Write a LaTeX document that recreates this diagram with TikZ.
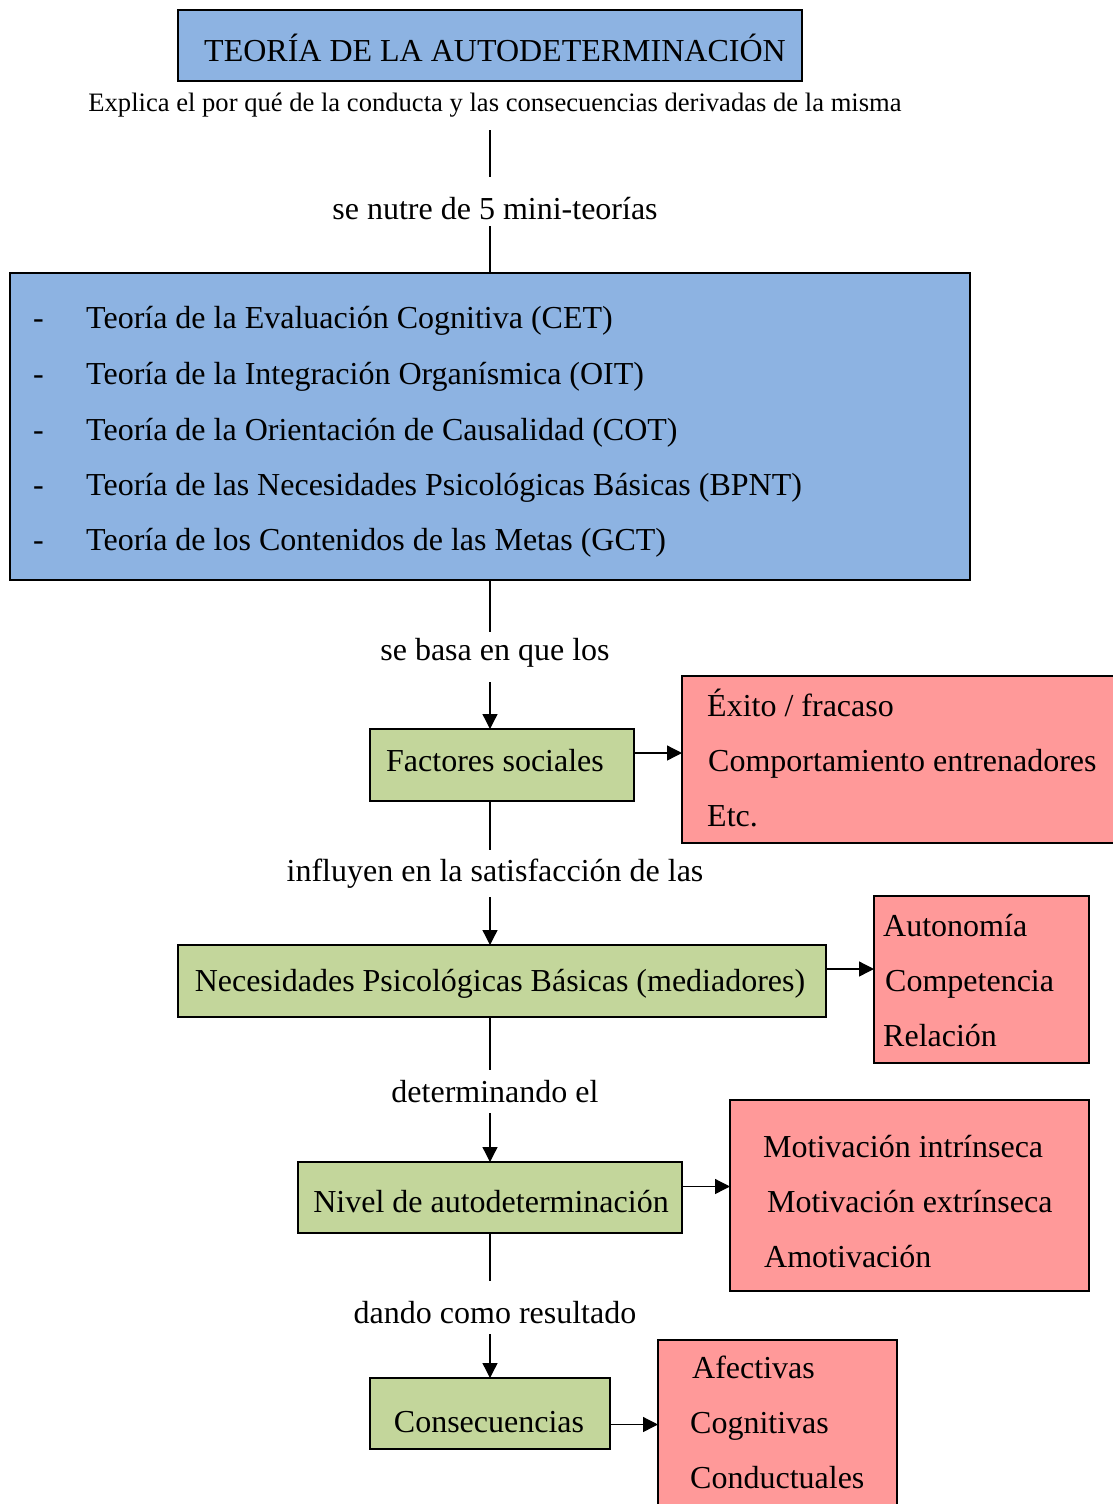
\documentclass[tikz,border=0pt]{standalone}
\usepackage{fontspec}
\setmainfont{Liberation Serif}
\usetikzlibrary{arrows.meta}
\definecolor{boxblue}{HTML}{8DB3E2}
\definecolor{boxgreen}{HTML}{C3D69B}
\definecolor{boxred}{HTML}{FF9999}
\begin{document}
\begin{tikzpicture}[x=1pt,y=-1pt,
  frame/.style={draw=black, line width=1.6pt, inner sep=0pt, outer sep=0pt, anchor=north west},
  bluebox/.style={frame, fill=boxblue},
  greenbox/.style={frame, fill=boxgreen},
  redbox/.style={frame, fill=boxred},
  big/.style={font=\fontsize{32}{38}\selectfont, inner sep=0pt},
  small/.style={font=\fontsize{26.6}{31}\selectfont, inner sep=0pt},
  itemtxt/.style={big, anchor=base west},
  midtxt/.style={big, anchor=base},
  link/.style={line width=1.3pt},
  arrowlink/.style={link, -{Triangle[length=15pt,width=15pt]}}
]
\useasboundingbox (0,0) rectangle (1113,1504);
\clip (0,0) rectangle (1113,1504);

% boxes
\node[bluebox, minimum width=624, minimum height=71] (title) at (178,10) {};
\node[bluebox, minimum width=960, minimum height=307] (mini) at (10,273) {};
\node[greenbox, minimum width=264, minimum height=72] (fs) at (370,729) {};
\node[redbox, minimum width=460, minimum height=167] (fsr) at (682,676) {};
\node[greenbox, minimum width=648, minimum height=72] (npb) at (178,945) {};
\node[redbox, minimum width=215, minimum height=167] (npbr) at (874,896) {};
\node[greenbox, minimum width=384, minimum height=71] (niv) at (298,1162) {};
\node[redbox, minimum width=359, minimum height=191] (nivr) at (730,1100) {};
\node[greenbox, minimum width=240, minimum height=71] (con) at (370,1378) {};
\node[redbox, minimum width=239, minimum height=200] (conr) at (658,1340) {};

% titles and texts
\node[midtxt] (titletxt) at (495,62) {TEORÍA DE LA AUTODETERMINACIÓN};
\node[small, anchor=base] (sub) at (495,111) {Explica el por qué de la conducta y las consecuencias derivadas de la misma};

\foreach \y/\t [count=\i] in {
  328/{Teoría de la Evaluación Cognitiva (CET)},
  384/{Teoría de la Integración Organísmica (OIT)},
  440/{Teoría de la Orientación de Causalidad (COT)},
  495/{Teoría de las Necesidades Psicológicas Básicas (BPNT)},
  550/{Teoría de los Contenidos de las Metas (GCT)}}{
  \node[itemtxt] (dash\i) at (33,\y) {-};
  \node[itemtxt] (mt\i) at (86,\y) {\t};
}

\node[midtxt] (fstxt) at (495,771) {Factores sociales};
\node[midtxt] (npbtxt) at (500,991) {Necesidades Psicológicas Básicas (mediadores)};
\node[midtxt] (nivtxt) at (491,1212) {Nivel de autodeterminación};
\node[midtxt] (contxt) at (489,1432) {Consecuencias};

\node[itemtxt] (r1a) at (707,716) {Éxito / fracaso};
\node[itemtxt] (r1b) at (708,771) {Comportamiento entrenadores};
\node[itemtxt] (r1c) at (707,826) {Etc.};

\node[itemtxt] (r2a) at (883,936) {Autonomía};
\node[itemtxt] (r2b) at (885,991) {Competencia};
\node[itemtxt] (r2c) at (883,1046) {Relación};

\node[itemtxt] (r3a) at (763,1157) {Motivación intrínseca};
\node[itemtxt] (r3b) at (767,1212) {Motivación extrínseca};
\node[itemtxt] (r3c) at (764,1267) {Amotivación};

\node[itemtxt] (r4a) at (692,1378) {Afectivas};
\node[itemtxt] (r4b) at (690,1433) {Cognitivas};
\node[itemtxt] (r4c) at (690,1488) {Conductuales};

% connector labels
\node[midtxt] (l1) at (495,219) {se nutre de 5 mini-teorías};
\node[midtxt] (l2) at (495,660) {se basa en que los};
\node[midtxt] (l3) at (495,881) {influyen en la satisfacción de las};
\node[midtxt] (l4) at (495,1102) {determinando el};
\node[midtxt] (l5) at (495,1323) {dando como resultado};

% spine coordinates
\coordinate (s0) at (490,130);
\coordinate (s1) at (490,177);
\coordinate (s2) at (490,226);
\coordinate (s3) at (490,632);
\coordinate (s4) at (490,682);
\coordinate (s5) at (490,850);
\coordinate (s6) at (490,897);
\coordinate (s7) at (490,1070);
\coordinate (s8) at (490,1113);
\coordinate (s9) at (490,1281);
\coordinate (s10) at (490,1334);

% vertical connectors
\draw[link] (s0) -- (s1);
\draw[link] (s2) -- (s2 |- mini.north);
\draw[link] (s3 |- mini.south) -- (s3);
\draw[arrowlink] (s4) -- (s4 |- fs.north);
\draw[link] (s5 |- fs.south) -- (s5);
\draw[arrowlink] (s6) -- (s6 |- npb.north);
\draw[link] (s7 |- npb.south) -- (s7);
\draw[arrowlink] (s8) -- (s8 |- niv.north);
\draw[link] (s9 |- niv.south) -- (s9);
\draw[arrowlink] (s10) -- (s10 |- con.north);

% side connectors
\draw[arrowlink] ([yshift=12pt]fs.east) -- ([yshift=12pt]fs.east -| fsr.west);
\draw[arrowlink] ([yshift=12pt]npb.east) -- ([yshift=12pt]npb.east -| npbr.west);
\draw[arrowlink] ([yshift=11pt]niv.east) -- ([yshift=11pt]niv.east -| nivr.west);
\draw[arrowlink] ([yshift=-11pt]con.east) -- ([yshift=-11pt]con.east -| conr.west);
\end{tikzpicture}
\end{document}
